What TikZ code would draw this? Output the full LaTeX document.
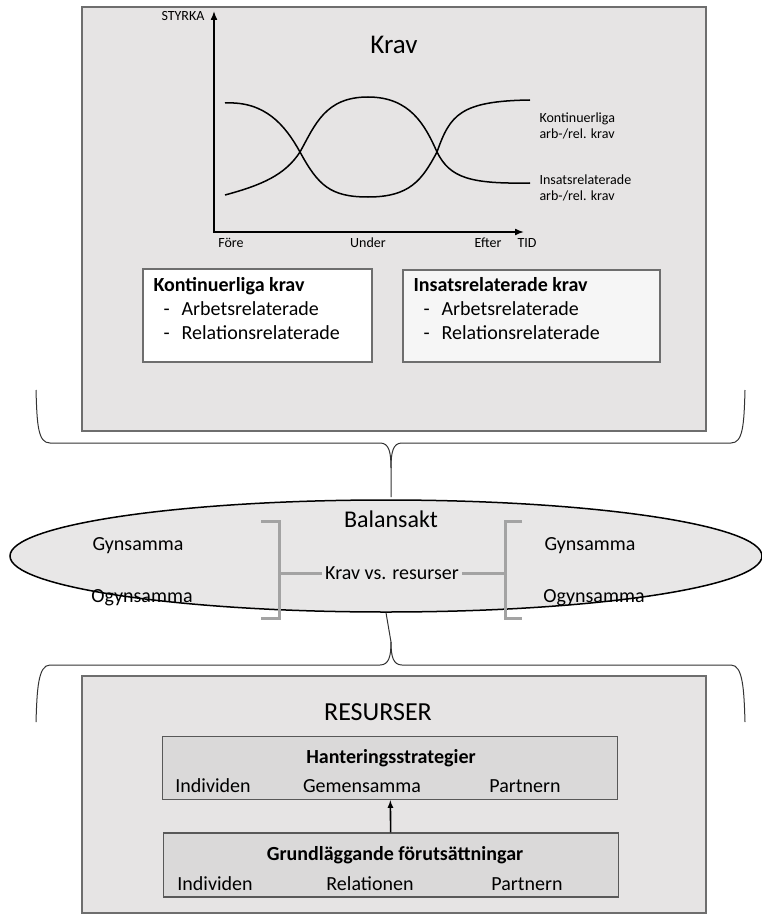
\documentclass[tikz,border=0pt]{standalone}
\usepackage{fontspec}
\setmainfont{Carlito}
\usetikzlibrary{shapes.geometric, arrows.meta}

\definecolor{panel}{HTML}{E6E4E4}
\definecolor{rim}{HTML}{6E6E6E}
\definecolor{bracket}{HTML}{A3A3A3}

\tikzset{
	panelbox/.style = {draw = rim, line width = 1.4pt, fill = panel},
	listbox/.style = {draw = rim, line width = 1.4pt, fill = white},
	resbox/.style = {draw = rim!80!black, line width = 1.4pt, fill = panel!95!black},
	brace/.style = {line width = 1pt, black!80},
	small/.style = {font = \fontsize{14}{16}\selectfont},
	body/.style = {font = \fontsize{20}{24}\selectfont},
	boldbody/.style = {font = \fontsize{20}{24}\selectfont\bfseries}
}

\begin{document}
\begin{tikzpicture}[> = latex, x = 1pt, y = -1pt]

	\useasboundingbox (0, 0) rectangle (762, 920);
	
	% Krav panel
	
	\draw [panelbox] (82, 7) rectangle (706, 431);
	\node [font = \fontsize{27}{30}\selectfont] (krav) at (394, 45) {Krav};
	
	% Axes of the chart
	
	\begin{scope}[-{Latex[length = 9pt, width = 7pt]}, line width = 1.6pt]
		\draw (214, 232) -- (214, 11);
		\draw (213, 232) -- (524, 232);
	\end{scope}
	
	\node [small, anchor = east] (styrka) at (208, 16) {STYRKA};
	\node [small] (fore) at (231, 243) {Före};
	\node [small] (under) at (368, 243) {Under};
	\node [small] (efter) at (488, 243) {Efter};
	\node [small] (tid) at (527, 243) {TID};
	
	% The two curves
	
	\begin{scope}[line width = 1.5pt]
		\draw (225, 103) .. controls (265, 101) and (285, 125) .. (300, 152)
			.. controls (318, 185) and (330, 197) .. (368, 197)
			.. controls (410, 197) and (422, 180) .. (437, 152)
			.. controls (450, 115) and (460, 101) .. (530, 100);
		\draw (225, 195) .. controls (262, 185) and (285, 175) .. (300, 152)
			.. controls (315, 125) and (325, 97) .. (368, 97)
			.. controls (410, 97) and (425, 125) .. (437, 152)
			.. controls (450, 178) and (470, 184) .. (530, 183);
	\end{scope}
	
	\node [small, anchor = west, align = left] (kont) at (536, 126) {Kontinuerliga\\arb-/rel. krav};
	\node [small, anchor = west, align = left] (insats) at (536, 188) {Insatsrelaterade\\arb-/rel. krav};
	
	% Lists of demands
	
	\draw [listbox] (143, 269) rectangle (372, 362);
	\node [body, anchor = north west, align = left] (kontlist) at (150, 274)
		{\textbf{Kontinuerliga krav}\\\hspace{10pt}-\hspace{12pt}Arbetsrelaterade\\\hspace{10pt}-\hspace{12pt}Relationsrelaterade};
	\draw [listbox, fill = panel!35] (403, 270) rectangle (660, 362);
	\node [body, anchor = north west, align = left] (insatslist) at (410, 274)
		{\textbf{Insatsrelaterade krav}\\\hspace{10pt}-\hspace{12pt}Arbetsrelaterade\\\hspace{10pt}-\hspace{12pt}Relationsrelaterade};
	
	% Upper brace
	
	\draw [brace] (36, 390) .. controls (37, 425) and (38, 443) .. (50, 443) -- (380, 443)
		.. controls (389, 443) and (391, 452) .. (391, 468) -- (391, 497);
	\draw [brace] (745, 390) .. controls (744, 425) and (743, 443) .. (731, 443) -- (402, 443)
		.. controls (393, 443) and (391, 452) .. (391, 468);
	
	% Balansakt
	
	\node [ellipse, draw, line width = 1.5pt, fill = panel!90!white, minimum width = 752pt,
		minimum height = 112pt, inner sep = 0pt] (balans) at (386, 556) {};
	\node [font = \fontsize{24}{28}\selectfont] (balanstitel) at (391, 519) {Balansakt};
	\node [body] (gyn1) at (138, 546) {Gynsamma};
	\node [body] (ogyn1) at (142, 598) {Ogynsamma};
	\node [body] (vs) at (392, 573) {Krav vs. resurser};
	\node [body] (gyn2) at (590, 546) {Gynsamma};
	\node [body] (ogyn2) at (594, 598) {Ogynsamma};
	
	\begin{scope}[bracket, line width = 3pt]
		\draw (261, 521) -- (279, 521) -- (279, 618) -- (261, 618);
		\draw (279, 573) -- (vs.west);
		\draw (522, 521) -- (505, 521) -- (505, 618) -- (522, 618);
		\draw (505, 573) -- (vs.east);
	\end{scope}
	
	% Lower brace
	
	\draw [brace] (36, 722) .. controls (37, 690) and (38, 665) .. (50, 665) -- (380, 665)
		.. controls (389, 665) and (391, 656) .. (391, 642) -- (balans.south);
	\draw [brace] (745, 722) .. controls (744, 690) and (743, 665) .. (731, 665) -- (402, 665)
		.. controls (393, 665) and (391, 656) .. (391, 642);
	
	% Resurser panel
	
	\draw [panelbox] (82, 676) rectangle (706, 913);
	\node [font = \fontsize{26}{30}\selectfont] (resurser) at (378, 712) {RESURSER};
	
	\node [resbox, minimum width = 455pt, minimum height = 63pt] (hant) at (390, 768) {};
	\node [boldbody] (hanttitel) at (391, 758) {Hanteringsstrategier};
	\node [body] (hant1) at (213, 786) {Individen};
	\node [body] (hant2) at (362, 786) {Gemensamma};
	\node [body] (hant3) at (525, 786) {Partnern};
	
	\node [resbox, minimum width = 455pt, minimum height = 64pt] (grund) at (391, 865) {};
	\node [boldbody] (grundtitel) at (395, 855) {Grundläggande förutsättningar};
	\node [body] (grund1) at (215, 884) {Individen};
	\node [body] (grund2) at (370, 884) {Relationen};
	\node [body] (grund3) at (527, 884) {Partnern};
	
	\draw [->, line width = 1.6pt] (grund) -- (hant);

\end{tikzpicture}
\end{document}
